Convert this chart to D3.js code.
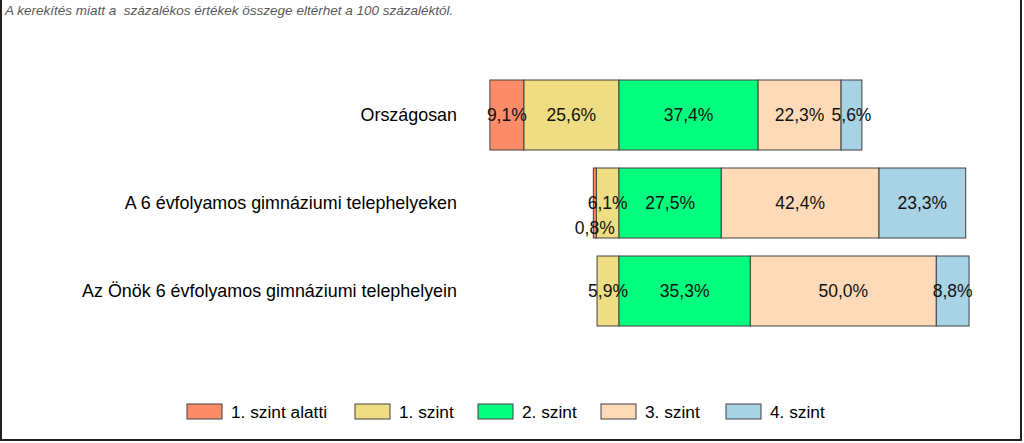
<!DOCTYPE html>
<html>
<head>
<meta charset="utf-8">
<script src="https://cdn.jsdelivr.net/npm/d3@7"></script>
<style>
  body { margin: 0; background: #fff; }
  svg { font-family: "Liberation Sans", Arial, sans-serif; }
</style>
</head>
<body>
<svg id="chart" width="1024" height="443"></svg>
<script>
const categories = ["Országosan", "A 6 évfolyamos gimnáziumi telephelyeken", "Az Önök 6 évfolyamos gimnáziumi telephelyein"]
const levels = ["1. szint alatti", "1. szint", "2. szint", "3. szint", "4. szint"]
const belowOne = [9.1, 0.8, 0]
const levelOne = [25.6, 6.1, 5.9]
const levelTwo = [37.4, 27.5, 35.3]
const levelThree = [22.3, 42.4, 50.0]
const levelFour = [5.6, 23.3, 8.8]
const colors = ["#ff8c69", "#eedd82", "#00ff7f", "#ffdab9", "#a8d3e4"]

const series = [belowOne, levelOne, levelTwo, levelThree, levelFour]

const svg = d3.select("#chart")

// frame
svg.append("path")
	.attr("d", "M1,0 V440 H1021 V0")
	.attr("fill", "none")
	.attr("stroke", "#222")
	.attr("stroke-width", 2)

svg.append("text")
	.text("A kerekítés miatt a  százalékos értékek összege eltérhet a 100 százaléktól.")
	.attr("x", 5)
	.attr("y", 15)
	.attr("font-size", "13.5px")
	.attr("font-style", "italic")
	.attr("fill", "#595959")
	.style("white-space", "pre")

const xScale = d3.scaleLinear()
	.domain([-35, 95])
	.range([619 - 35 * 3.72, 619 + 95 * 3.72])

const yScale = d3.scaleBand()
	.domain(categories)
	.range([71, 335])
	.paddingInner(18 / 88)
	.paddingOuter(9 / 88)

// build segments: first two levels go left of zero, rest right
const segments = []
categories.forEach(function(c, i) {
	let left = 0
	for (let k = 1; k >= 0; k--) {
		const v = series[k][i]
		segments.push({cat: c, level: k, value: v, x0: left - v, x1: left})
		left -= v
	}
	let right = 0
	for (let k = 2; k < 5; k++) {
		const v = series[k][i]
		segments.push({cat: c, level: k, value: v, x0: right, x1: right + v})
		right += v
	}
})

const shown = segments.filter(d => d.value > 0)

svg.append("g")
	.selectAll("rect")
	.data(shown)
	.enter()
	.append("rect")
	.attr("x", d => xScale(d.x0))
	.attr("y", d => yScale(d.cat))
	.attr("width", d => xScale(d.x1) - xScale(d.x0))
	.attr("height", yScale.bandwidth())
	.attr("fill", d => colors[d.level])
	.attr("stroke", "#404040")
	.attr("stroke-width", 1)

svg.append("g")
	.selectAll("text")
	.data(shown)
	.enter()
	.append("text")
	.text(d => d3.format(".1f")(d.value).replace(".", ",") + "%")
	.attr("x", d => (xScale(d.x0) + xScale(d.x1)) / 2)
	.attr("y", d => yScale(d.cat) + yScale.bandwidth() / 2 + (d.value < 2 ? 25 : 0))
	.attr("dy", "0.35em")
	.attr("text-anchor", "middle")
	.attr("font-size", "17.5px")
	.attr("fill", "#111")

// category labels
const yAxis = d3.axisLeft(yScale).tickSize(0).tickPadding(8)
svg.append("g")
	.attr("transform", "translate(465,0)")
	.call(yAxis)
	.call(g => g.select(".domain").remove())
	.selectAll("text")
	.attr("font-size", "17.9px")
	.attr("font-family", "Liberation Sans, Arial, sans-serif")
	.attr("fill", "#000")

// legend
const legendX = [187, 355, 478, 601, 726]
const legend = svg.append("g")
	.selectAll("g")
	.data(levels)
	.enter()
	.append("g")
	.attr("transform", (d, i) => `translate(${legendX[i]},404)`)

legend.append("rect")
	.attr("width", 35)
	.attr("height", 15)
	.attr("fill", (d, i) => colors[i])
	.attr("stroke", "#404040")

legend.append("text")
	.text(d => d)
	.attr("x", 44)
	.attr("y", 8)
	.attr("dy", "0.35em")
	.attr("font-size", "17.3px")
</script>
</body>
</html>
